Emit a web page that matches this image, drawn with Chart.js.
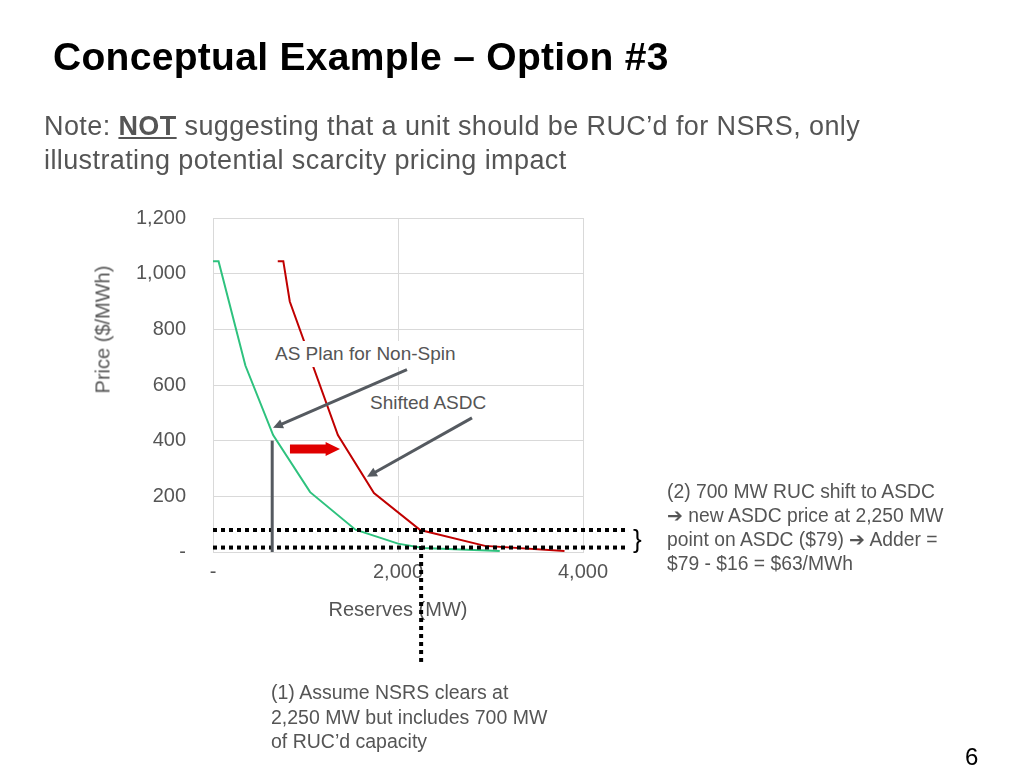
<!DOCTYPE html>
<html>
<head>
<meta charset="utf-8">
<script src="https://cdn.jsdelivr.net/npm/chart.js@4"></script>
<style>
body { margin:0; width:1024px; height:768px; position:relative; background:#fff; font-family:"Liberation Sans", Arial, sans-serif; overflow:hidden; }
canvas { position:absolute; left:0; top:0; }
.t { position:absolute; color:#555; }
</style>
</head>
<body>
<canvas id="myChart" width="1024" height="768"></canvas>
<div class="t" style="left:53px;top:35px;font-size:39px;font-weight:bold;color:#000;letter-spacing:0.3px;">Conceptual Example – Option #3</div>
<div class="t" style="left:44px;top:109px;font-size:27px;line-height:34px;letter-spacing:0.4px;">Note: <b style="text-decoration:underline;">NOT</b> suggesting that a unit should be RUC’d for NSRS, only<br>illustrating potential scarcity pricing impact</div>
<div class="t" style="left:38px;top:318px;width:130px;font-size:20px;text-align:center;transform:rotate(-90deg);">Price ($/MWh)</div>
<div class="t" style="left:272px;top:341px;font-size:19px;background:#fff;padding:2px 3px;">AS Plan for Non-Spin</div>
<div class="t" style="left:367px;top:390px;font-size:19px;background:#fff;padding:2px 3px;width:210px;">Shifted ASDC</div>
<div class="t" style="left:633px;top:524px;font-size:26px;color:#000;">}</div>
<div class="t" style="left:667px;top:480px;font-size:19.3px;line-height:24px;">(2) 700 MW RUC shift to ASDC<br>➔ new ASDC price at 2,250 MW<br>point on ASDC ($79) ➔ Adder =<br>$79 - $16 = $63/MWh</div>
<div class="t" style="left:271px;top:680px;font-size:19.5px;line-height:24.5px;">(1) Assume NSRS clears at<br>2,250 MW but includes 700 MW<br>of RUC’d capacity</div>
<div class="t" style="left:965px;top:743px;font-size:24px;color:#000;">6</div>
<script>
const greenX = [0, 60, 350, 650, 1050, 1540, 2000, 2270, 3100]
const greenY = [1045, 1045, 670, 420, 215, 80, 30, 14, 4]
const redX = [700, 760, 830, 1350, 1740, 2240, 2940, 3800]
const redY = [1045, 1045, 900, 420, 212, 79, 22, 4]
const clearMW = 2250
const priceHigh = 79
const priceLow = 16
const rucMW = 640

const toPts = (xs, ys) => xs.map((x, i) => ({x: x, y: ys[i]}))

const overlay = {
    id: "overlay",
    afterDraw(chart) {
        const c = chart.ctx
        const xs = chart.scales.x, ys = chart.scales.y
        const X = v => xs.getPixelForValue(v), Y = v => ys.getPixelForValue(v)
        c.save()
        // dotted price lines
        c.strokeStyle = "#000"; c.lineWidth = 4; c.setLineDash([4, 4])
        ;[priceHigh, priceLow].forEach(p => {
            c.beginPath(); c.moveTo(X(0), Y(p)); c.lineTo(X(4475), Y(p)); c.stroke()
        })
        c.beginPath(); c.moveTo(X(clearMW), Y(priceHigh)); c.lineTo(X(clearMW), Y(-395)); c.stroke()
        c.setLineDash([])
        // RUC'd marker
        c.strokeStyle = "#555a60"; c.lineWidth = 3
        c.beginPath(); c.moveTo(X(rucMW), Y(400)); c.lineTo(X(rucMW), Y(0)); c.stroke()
        // pointer arrows
        const arrow = (x1, y1, x2, y2, col, w, head) => {
            const a = Math.atan2(Y(y2) - Y(y1), X(x2) - X(x1))
            c.strokeStyle = col; c.fillStyle = col; c.lineWidth = w
            c.beginPath(); c.moveTo(X(x1), Y(y1)); c.lineTo(X(x2) - Math.cos(a) * head * 0.8, Y(y2) - Math.sin(a) * head * 0.8); c.stroke()
            c.beginPath(); c.moveTo(X(x2), Y(y2))
            c.lineTo(X(x2) - head * Math.cos(a - 0.45), Y(y2) - head * Math.sin(a - 0.45))
            c.lineTo(X(x2) - head * Math.cos(a + 0.45), Y(y2) - head * Math.sin(a + 0.45))
            c.closePath(); c.fill()
        }
        arrow(2097, 655, 649, 446, "#555a60", 3, 11)
        arrow(2800, 482, 1665, 270, "#555a60", 3, 11)
        arrow(832, 370, 1373, 370, "#e00000", 9, 16)
        c.restore()
    }
}

const ctx = document.getElementById("myChart").getContext("2d")
const chart = new Chart(ctx, {
    type: "scatter",
    data: {
        datasets: [
            { data: toPts(greenX, greenY), showLine: true, borderColor: "#2ec27e", borderWidth: 2, pointRadius: 0 },
            { data: toPts(redX, redY), showLine: true, borderColor: "#c00000", borderWidth: 2, pointRadius: 0 }
        ]
    },
    options: {
        responsive: false,
        animation: false,
        layout: { padding: { left: 90, right: 441, top: 218, bottom: 146 } },
        plugins: { legend: { display: false }, tooltip: { enabled: false } },
        scales: {
            x: {
                min: 0, max: 4000,
                ticks: { stepSize: 2000, color: "#555", font: { family: "Liberation Sans", size: 20 }, padding: 8,
                    callback: v => v === 0 ? "-" : v.toLocaleString("en-US") },
                grid: { color: "#d9d9d9", drawTicks: false },
                border: { color: "#d9d9d9" },
                title: { display: true, text: "Reserves (MW)", color: "#555", font: { family: "Liberation Sans", size: 20 }, padding: 0 },
                afterFit: s => { s.height = 70 }
            },
            y: {
                min: 0, max: 1200,
                ticks: { stepSize: 200, color: "#555", font: { family: "Liberation Sans", size: 20 }, padding: 27,
                    callback: v => v === 0 ? "-" : v.toLocaleString("en-US") },
                grid: { color: "#d9d9d9", drawTicks: false },
                border: { color: "#d9d9d9" },
                afterFit: s => { s.width = 123 }
            }
        }
    },
    plugins: [overlay]
})
</script>
</body>
</html>
